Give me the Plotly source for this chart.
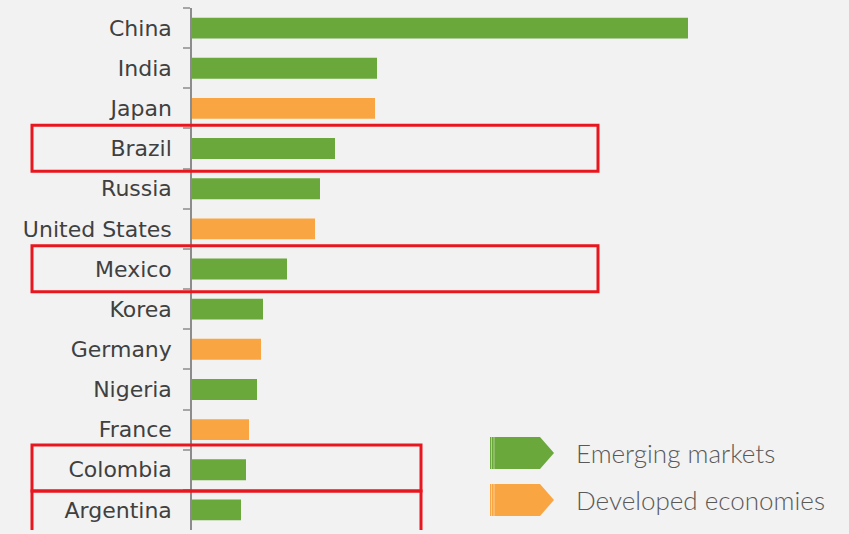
import plotly.graph_objects as go

# ---- data ----
countries = ["China", "India", "Japan", "Brazil", "Russia", "United States", "Mexico",
             "Korea", "Germany", "Nigeria", "France", "Colombia", "Argentina"]
values = [49.6, 18.5, 18.3, 14.3, 12.8, 12.3, 9.5, 7.1, 6.9, 6.5, 5.7, 5.4, 4.9]
groups = ["Emerging", "Emerging", "Developed", "Emerging", "Emerging", "Developed", "Emerging",
          "Emerging", "Developed", "Emerging", "Developed", "Emerging", "Emerging"]
highlighted = ["Brazil", "Mexico", "Colombia", "Argentina"]
legend_labels = ["Emerging markets", "Developed economies"]

# ---- style ----
GREEN = "#6aa83b"
ORANGE = "#f9a642"
BG = "#f2f2f2"
RED = "#e8161e"
W, H = 849, 534
L, R, T, B = 192, 0, 8, 4
PW, PH = W - L - R, H - T - B

color_map = {"Emerging": GREEN, "Developed": ORANGE}
colors = [color_map[g] for g in groups]

fig = go.Figure()
fig.add_trace(go.Bar(
    y=countries, x=values, orientation="h",
    marker=dict(color=colors, line=dict(width=0)),
    width=0.52, showlegend=False, hoverinfo="x+y",
))

def px_x(p):
    return (p - L) / PW

def px_y(p):
    return (H - B - p) / PH

shapes = []
# highlight boxes (right edge in pixels)
box_right = {"Brazil": 598, "Mexico": 598, "Colombia": 421, "Argentina": 421}
box_ext = {"Brazil": (0.58, 0.565), "Mexico": (0.58, 0.565),
           "Colombia": (0.615, 0.53), "Argentina": (0.47, 1.2)}
for c in highlighted:
    i = countries.index(c)
    up, dn = box_ext[c]
    shapes.append(dict(type="rect", xref="paper", yref="y",
                       x0=px_x(32), x1=px_x(box_right[c]),
                       y0=i - up, y1=i + dn,
                       line=dict(color=RED, width=3), fillcolor="rgba(0,0,0,0)",
                       layer="above"))

# legend arrows
annotations = []
for k, (lab, col) in enumerate(zip(legend_labels, [GREEN, ORANGE])):
    top = 437 + k * 47
    bot = top + 32
    mid = (top + bot) / 2
    pts = [(490, top), (540, top), (554, mid), (540, bot), (490, bot)]
    path = "M " + " L ".join(f"{px_x(x):.5f},{px_y(y):.5f}" for x, y in pts) + " Z"
    shapes.append(dict(type="path", xref="paper", yref="paper", path=path,
                       fillcolor=col, line=dict(width=0)))
    for lx in (491.5, 494):
        shapes.append(dict(type="line", xref="paper", yref="paper",
                           x0=px_x(lx), x1=px_x(lx), y0=px_y(top), y1=px_y(bot),
                           line=dict(color="rgba(255,255,255,0.6)", width=0.8)))
    annotations.append(dict(xref="paper", yref="paper", x=px_x(574), y=px_y(mid),
                            text=lab, showarrow=False, xanchor="left", yanchor="middle",
                            font=dict(family="Lato", size=26, color="#595959", weight=300)))

n = len(countries)
fig.update_layout(
    width=W, height=H,
    margin=dict(l=L, r=R, t=T, b=B, pad=0, autoexpand=False),
    paper_bgcolor=BG, plot_bgcolor=BG,
    shapes=shapes, annotations=annotations,
    bargap=0.48,
    xaxis=dict(range=[0, 49.6 * PW / 496], visible=False, showgrid=False, zeroline=False,
               automargin=False),
    yaxis=dict(type="category", categoryorder="array", categoryarray=countries,
               range=[n - 0.5, -0.5], showline=True, linecolor="#8c8c8c", linewidth=1.5,
               ticks="outside", tickson="boundaries", ticklen=7, tickcolor="#a6a6a6",
               tickwidth=1.5, showgrid=False, zeroline=False, ticklabelstandoff=14,
               automargin=False,
               tickfont=dict(family="DejaVu Sans", size=22, color="#404040")),
)

fig.write_html("out.html", config={"displayModeBar": False},
               post_script="document.body.style.margin='0';document.body.style.padding='0';")
